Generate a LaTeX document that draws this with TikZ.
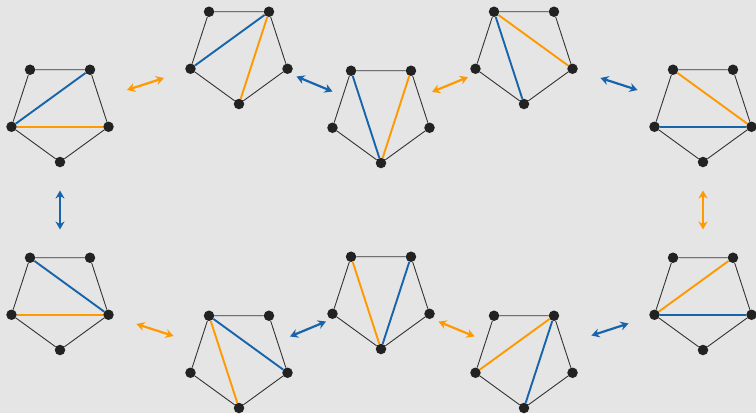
\documentclass[tikz,border=0pt]{standalone}
\usepackage{xcolor}
\usepackage{tikz}
\usetikzlibrary{arrows.meta, calc}
\definecolor{flipblue}{HTML}{1764AB}
\definecolor{fliporange}{HTML}{FF9900}
\definecolor{bggray}{HTML}{E5E5E5}
\definecolor{dotgray}{HTML}{222222}
\definecolor{sidegray}{HTML}{333333}

\begin{document}
\begin{tikzpicture}[x=1pt, y=-1pt,
    vertex/.style={circle, fill=dotgray, inner sep=0pt, minimum size=10.5pt},
    side/.style={draw=sidegray, line width=0.9pt},
    diag/.style={line width=1.9pt},
    flip/.style={line width=2.2pt, {Stealth[length=8pt,width=9pt]}-{Stealth[length=8pt,width=9pt]}}]
  \fill[bggray] (0,0) rectangle (756,413);
  \useasboundingbox (0,0) rectangle (756,413);

  % pentagon centres and corners
  \foreach \n/\x/\y in {t1/60/111, t2/239/53, t3/381/112, t4/524/53, t5/703/111,
                        t6/703/299, t7/524/357, t8/381/298, t9/239/357, t10/60/299}{
    \coordinate (\n) at (\x,\y);
    \foreach \v/\a in {b/-90, r/-18, tr/54, tl/126, l/198}
      \node[vertex] (\n-\v) at ($(\n)+(\a:51pt)$) {};
  }

  % outer sides
  \foreach \n in {t1,t2,t3,t4,t5,t6,t7,t8,t9,t10}
    \draw[side] (\n-b) -- (\n-r) -- (\n-tr) -- (\n-tl) -- (\n-l) -- (\n-b);

  % diagonals: blue pair, orange pair
  \foreach \n/\bu/\bv/\ou/\ov in {t1/l/tr/l/r, t2/l/tr/b/tr, t3/b/tl/b/tr, t4/b/tl/tl/r,
                                  t5/l/r/tl/r, t6/l/r/l/tr, t7/b/tr/l/tr, t8/b/tr/b/tl,
                                  t9/tl/r/b/tl, t10/tl/r/l/r}{
    \draw[diag, flipblue] (\n-\bu) -- (\n-\bv);
    \draw[diag, fliporange] (\n-\ou) -- (\n-\ov);
  }

  % flips
  \foreach \s/\e/\c/\dx/\dy in {t1/t2/fliporange/-4/2, t2/t3/flipblue/4.5/1.5,
                                t3/t4/fliporange/-2.5/2, t4/t5/flipblue/5.5/2,
                                t5/t6/fliporange/0/5, t6/t7/flipblue/-3.5/1.5,
                                t7/t8/fliporange/4/1.5, t8/t9/flipblue/-2/1.5,
                                t9/t10/fliporange/5.5/2, t10/t1/flipblue/0/5}
    \draw[flip, \c] ($(\s)!.5!(\e)!19.5pt!(\s) + (\dx,\dy)$) -- ($(\s)!.5!(\e)!19.5pt!(\e) + (\dx,\dy)$);
\end{tikzpicture}
\end{document}
